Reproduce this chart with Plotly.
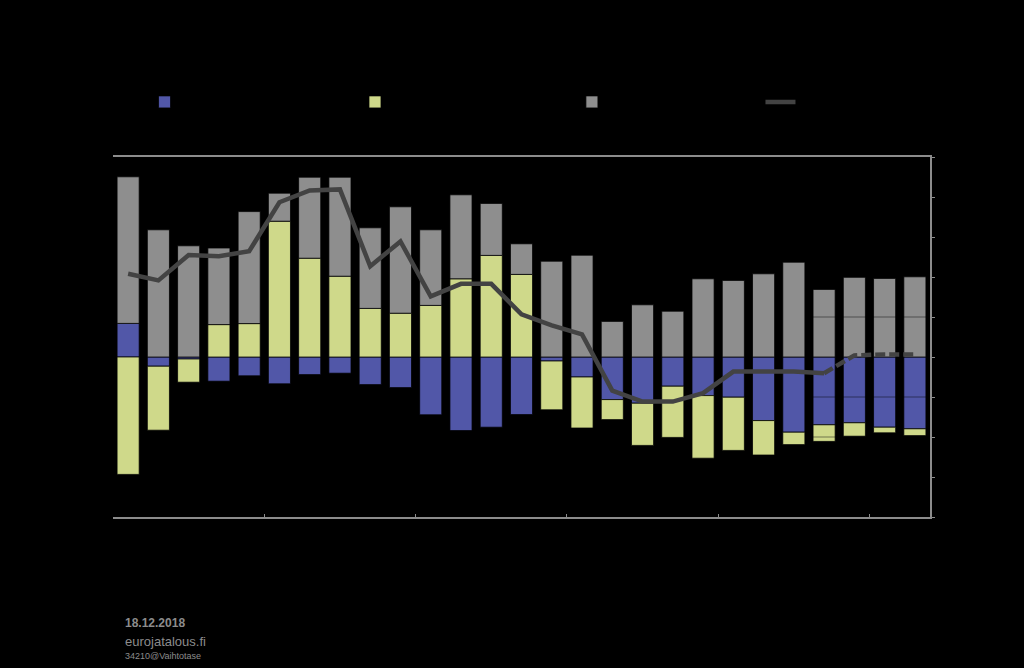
import plotly.graph_objects as go

years = list(range(1995, 2022))
forecast_start = 2018

households = [1.68, -0.46, -0.10, -1.21, -0.94, -1.34, -0.88, -0.81, -1.38, -1.53, -2.89, -3.68, -3.51, -2.88,
              -0.20, -1.00, -2.13, -2.31, -1.46, -1.93, -2.01, -3.18, -3.76, -3.39, -3.29, -3.51, -3.59]
public = [-5.87, -3.20, -1.16, 1.62, 1.67, 6.79, 4.94, 4.04, 2.43, 2.19, 2.58, 3.91, 5.08, 4.13,
          -2.44, -2.55, -1.00, -2.11, -2.56, -3.13, -2.66, -1.72, -0.62, -0.83, -0.67, -0.28, -0.34]
firms = [7.33, 6.36, 5.56, 3.83, 5.60, 1.40, 4.05, 4.95, 4.03, 5.32, 3.78, 4.20, 2.60, 1.53,
         4.79, 5.09, 1.78, 2.61, 2.29, 3.91, 3.83, 4.16, 4.74, 3.38, 3.99, 3.93, 4.03]
current_account = [4.16, 3.83, 5.10, 5.04, 5.29, 7.74, 8.33, 8.38, 4.54, 5.78, 3.03, 3.66, 3.66, 2.13,
                   1.58, 1.13, -1.68, -2.23, -2.23, -1.81, -0.73, -0.73, -0.73, -0.81, 0.08, 0.13, 0.13]

names = ["Kotitaloudet", "Julkisyhteisöt", "Yritykset", "Vaihtotase"]
y_ticks = [-8, -6, -4, -2, 0, 2, 4, 6, 8, 10]
x_tick_years = [1995, 2000, 2005, 2010, 2015, 2020]

BLUE = "#5157a8"
YELLOW = "#cfd98a"
GREY = "#8e8e8e"
LINE = "#434343"
AXIS = "#8c8c8c"

fig = go.Figure()
outline = dict(color="rgba(0,0,0,0.75)", width=1)
fig.add_trace(go.Bar(x=years, y=households, name=names[0], legend="legend",
                     marker=dict(color=BLUE, line=outline)))
fig.add_trace(go.Bar(x=years, y=public, name=names[1], legend="legend2",
                     marker=dict(color=YELLOW, line=outline)))
fig.add_trace(go.Bar(x=years, y=firms, name=names[2], legend="legend3",
                     marker=dict(color=GREY, line=outline)))

fi = years.index(forecast_start)
fig.add_trace(go.Scatter(x=years[:fi + 1], y=current_account[:fi + 1], mode="lines", name=names[3],
                         legend="legend4", line=dict(color=LINE, width=4.5)))
fig.add_trace(go.Scatter(x=years[fi:], y=current_account[fi:], mode="lines", showlegend=False,
                         line=dict(color=LINE, width=4.5, dash="10px,4px")))

# faint gridlines visible through forecast bars
for v in y_ticks:
    if v in (0, 10, -8):
        continue
    fig.add_shape(type="line", xref="x", yref="y", x0=forecast_start - 0.37, x1=years[-1] + 0.5,
                  y0=v, y1=v, line=dict(color="rgba(0,0,0,0.45)", width=1), layer="above")

leg_common = dict(orientation="h", y=1.153, xanchor="left", yanchor="middle",
                  font=dict(color="black", size=12), bgcolor="rgba(0,0,0,0)")
fig.update_layout(
    barmode="relative",
    bargap=0.27,
    width=1024, height=668,
    paper_bgcolor="black", plot_bgcolor="black",
    margin=dict(l=113, r=94, t=157, b=151),
    font=dict(family="Liberation Sans, Arial, sans-serif", color="black", size=12),
    title=dict(text="Vaihtotase ja sektoreiden rahoitusjäämät", x=0.11, y=0.95,
               font=dict(color="black", size=16)),
    legend=dict(x=0.0386, **leg_common),
    legend2=dict(x=0.2962, **leg_common),
    legend3=dict(x=0.5617, **leg_common),
    legend4=dict(x=0.7925, **leg_common),
    showlegend=True,
)
fig.update_xaxes(range=[years[0] - 0.5, years[-1] + 0.5], tickvals=[y - 0.5 for y in x_tick_years],
                 ticktext=[str(y) for y in x_tick_years], showgrid=False, zeroline=False,
                 showline=True, mirror=True, linecolor=AXIS, linewidth=2,
                 ticks="inside", ticklen=3, tickcolor=AXIS, tickfont=dict(color="black"))
fig.update_yaxes(range=[-8, 10], tickvals=y_ticks, side="right", showgrid=False, zeroline=False,
                 showline=True, linecolor=AXIS, linewidth=2, ticks="outside", ticklen=3, tickcolor=AXIS,
                 tickfont=dict(color="black"), title=dict(text="% BKT:sta", font=dict(color="black")))

fig.add_annotation(text="<b>18.12.2018</b>", xref="paper", yref="paper", x=0.012, y=-0.295,
                   xanchor="left", yanchor="middle", showarrow=False, font=dict(color=AXIS, size=12))
fig.add_annotation(text="eurojatalous.fi", xref="paper", yref="paper", x=0.012, y=-0.345,
                   xanchor="left", yanchor="middle", showarrow=False, font=dict(color=AXIS, size=13))
fig.add_annotation(text="34210@Vaihtotase", xref="paper", yref="paper", x=0.012, y=-0.385,
                   xanchor="left", yanchor="middle", showarrow=False, font=dict(color=AXIS, size=9))

fig.write_html("out.html", config={"displayModeBar": False},
               post_script="document.body.style.margin='0';document.body.style.background='black';"
                           "document.documentElement.style.background='black';")
